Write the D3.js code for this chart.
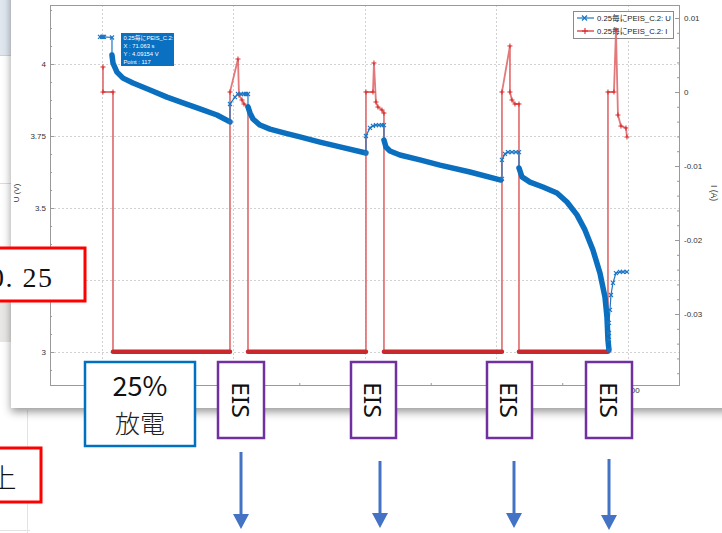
<!DOCTYPE html>
<html><head><meta charset="utf-8">
<script src="https://cdn.jsdelivr.net/npm/d3@7/dist/d3.min.js"></script>
<style>
body{margin:0;background:#fff;overflow:hidden}
svg{display:block}
</style>
</head><body>
<svg id="c" width="722" height="533"></svg>
<script>
// ---------------- data ----------------
const tDomain = [-1977, 21940];
const uDomain = [2.8854, 4.2049];
const iDomain = [-0.03959, 0.011757];

const tTicks = [0, 5000, 10000, 15000, 20000];
const tTickLabels = ["0", "5000", "10000", "15000", "20000"];
const tMinorTicks = [2500, 7500, 12500, 17500];
const uTicks = [3, 3.25, 3.5, 3.75, 4];
const uTickLabels = ["3", "", "3.5", "3.75", "4"];   // 3.25 label is covered in the reference
const iTicks = [-0.03, -0.02, -0.01, 0, 0.01];
const iTickLabels = ["-0.03", "-0.02", "-0.01", "0", "0.01"];

const seriesNames = ["0.25毎にPEIS_C.2: U", "0.25毎にPEIS_C.2: I"];
const axisTitles = ["U (V)", "I (A)", "time (s)"];
const tooltipLines = ["0.25毎にPEIS_C.2: U", "X : 71.063 s", "Y : 4.09154 V", "Point : 117"];

// voltage U (s, V), segment by segment
const uRest = [[-76,4.094],[0,4.094],[38,4.094],[76,4.094],[380,4.092]];
const uDis1 = [[380,4.031],[418,4.003],[570,3.972],[798,3.951],[1179,3.934],[1825,3.910],[2471,3.885],[3080,3.865],[3726,3.844],[4372,3.823],[4867,3.799]];
const uEis1 = [[4867,3.799],[4867,3.861],[5057,3.885],[5171,3.896],[5285,3.896],[5399,3.896],[5475,3.896],[5551,3.896]];
const uDis2 = [[5551,3.851],[5627,3.830],[5741,3.809],[6007,3.788],[6388,3.774],[6958,3.760],[7528,3.747],[8288,3.729],[9049,3.712],[10037,3.691]];
const uEis2 = [[10037,3.691],[10037,3.750],[10189,3.778],[10303,3.785],[10417,3.788],[10531,3.788],[10645,3.788],[10721,3.788]];
const uDis3 = [[10721,3.736],[10797,3.712],[10949,3.698],[11329,3.684],[12090,3.667],[12850,3.649],[13991,3.625],[15170,3.597]];
const uEis3 = [[15208,3.601],[15208,3.667],[15322,3.688],[15436,3.694],[15588,3.694],[15740,3.694],[15855,3.694]];
const uDis4 = [[15855,3.639],[15969,3.608],[16273,3.590],[16767,3.573],[17300,3.552],[17680,3.521],[18060,3.476],[18364,3.424],[18668,3.354],[18935,3.274],[19125,3.191],[19201,3.122],[19239,3.042],[19277,3.007]];
const uEis4 = [[19277,3.007],[19277,3.042],[19277,3.066],[19277,3.101],[19315,3.146],[19353,3.198],[19429,3.240],[19543,3.274],[19695,3.278],[19809,3.278],[19961,3.278]];

// current I (s, A)
const iRest = [[38,0.00338],[38,0],[418,0]];
const iDis1 = [[418,-0.0351],[4867,-0.0351]];
const iEis1 = [[4867,0],[5171,0.00446],[5209,-0.0004],[5323,-0.00108],[5399,-0.00162],[5551,-0.00203]];
const iDis2 = [[5551,-0.0351],[10037,-0.0351]];
const iEis2 = [[10037,0],[10303,0],[10341,0.00392],[10417,-0.00135],[10493,-0.00203],[10645,-0.00243],[10721,-0.00284]];
const iDis3 = [[10721,-0.0351],[15208,-0.0351]];
const iEis3 = [[15208,0],[15512,0.00622],[15512,0],[15588,-0.00108],[15703,-0.00162],[15855,-0.00162]];
const iDis4 = [[15855,-0.0351],[19239,-0.0351]];
const iEis4 = [[19239,0],[19467,0],[19543,0.00838],[19619,-0.00311],[19733,-0.0046],[19923,-0.00486],[19961,-0.00608]];

const uSegments = [uRest,uDis1,uEis1,uDis2,uEis2,uDis3,uEis3,uDis4,uEis4];
const iSegments = [iRest,iDis1,iEis1,iDis2,iEis2,iDis3,iEis3,iDis4,iEis4];
const segmentKinds = ["rest","discharge","eis","discharge","eis","discharge","eis","discharge","eis"];

// overlay annotation labels
const stepLabels = ["25%", "放電"];
const eisLabel = "EIS";
const sideLabels = ["0. 25", "上"];

// ---------------- drawing ----------------
const W = 722, H = 533;
const svg = d3.select("#c");
const defs = svg.append("defs");
const flt = defs.append("filter").attr("id","sh").attr("x","-5%").attr("y","-5%").attr("width","110%").attr("height","115%");
flt.append("feDropShadow").attr("dx",0).attr("dy",4).attr("stdDeviation",4)
   .attr("flood-color","#000").attr("flood-opacity",0.4);

const SANS = "'Liberation Sans', Arial, 'Noto Sans CJK JP', sans-serif";
const CJK = "'Noto Sans CJK JP', 'Noto Sans', sans-serif";

// background behind the chart window
svg.append("rect").attr("width",W).attr("height",H).attr("fill","#fff");
svg.append("rect").attr("x",0).attr("y",0).attr("width",12).attr("height",55).attr("fill","#e0e7ef");
svg.append("line").attr("x1",0).attr("x2",12).attr("y1",55.5).attr("y2",55.5).attr("stroke","#cfd3d8");
svg.append("line").attr("x1",0).attr("x2",12).attr("y1",183.5).attr("y2",183.5).attr("stroke","#dcdcdc");
svg.append("rect").attr("x",0).attr("y",300).attr("width",12).attr("height",42).attr("fill","#e9e7e5");
svg.append("line").attr("x1",27.5).attr("x2",27.5).attr("y1",410).attr("y2",H).attr("stroke","#e3e3e3");
svg.append("line").attr("x1",0).attr("x2",30).attr("y1",530.5).attr("y2",530.5).attr("stroke","#e3e3e3");

// chart window card
svg.append("rect").attr("x",11).attr("y",-20).attr("width",740).attr("height",428)
   .attr("fill","#fff").attr("filter","url(#sh)");

const M = {l:50, r:679, t:5, b:385};
const x = d3.scaleLinear().domain(tDomain).range([M.l, M.r]);
const yU = d3.scaleLinear().domain(uDomain).range([M.b, M.t]);
const yI = d3.scaleLinear().domain(iDomain).range([M.b, M.t]);

// grid
const grid = svg.append("g").attr("stroke","#d2d2d2").attr("stroke-dasharray","2,2").attr("stroke-width",1);
tTicks.forEach(t => grid.append("line").attr("x1",Math.round(x(t))+0.5).attr("x2",Math.round(x(t))+0.5).attr("y1",M.t).attr("y2",M.b));
uTicks.forEach(u => grid.append("line").attr("x1",M.l).attr("x2",M.r).attr("y1",Math.round(yU(u))+0.5).attr("y2",Math.round(yU(u))+0.5));

// legend (drawn below the series)
const lg = svg.append("g");
lg.append("rect").attr("x",573.5).attr("y",11.5).attr("width",100).attr("height",27)
  .attr("fill","#fff").attr("stroke","#8a8a8a");
const legendColors = ["#1f77c4", "#d62728"];
seriesNames.forEach((n,i) => {
  const yy = 18 + i*13;
  lg.append("line").attr("x1",577).attr("x2",594).attr("y1",yy).attr("y2",yy)
    .attr("stroke",legendColors[i]).attr("stroke-width",1.2);
  if (i === 0) {
    lg.append("path").attr("d",`M582,${yy-2.5}L587,${yy+2.5}M582,${yy+2.5}L587,${yy-2.5}`).attr("stroke",legendColors[i]).attr("stroke-width",1.3);
  } else {
    lg.append("path").attr("d",`M582,${yy}L588,${yy}M585,${yy-3}L585,${yy+3}`).attr("stroke",legendColors[i]).attr("stroke-width",1.1);
  }
  lg.append("text").attr("x",597).attr("y",yy+3).attr("font-family",SANS).attr("font-size",7.7)
    .attr("fill","#222").text(n);
});

// axes
function styleAxis(g){
  g.select(".domain").remove();
  g.selectAll("line").attr("stroke","#9a9a9a");
  g.selectAll("text").attr("font-family",SANS).attr("font-size",8).attr("fill","#333");
}
const uMinor = d3.range(2.9375, 4.2, 0.0625).filter(v => !uTicks.some(t => Math.abs(t-v) < 1e-6));
const iMinor = d3.range(-0.038, 0.0115, 0.002).filter(v => !iTicks.some(t => Math.abs(t-v) < 1e-6));

svg.append("g").attr("transform",`translate(${M.l},0)`)
  .call(d3.axisLeft(yU).tickValues(uMinor).tickFormat("").tickSize(-2)).call(styleAxis);
svg.append("g").attr("transform",`translate(${M.l},0)`)
  .call(d3.axisLeft(yU).tickValues(uTicks).tickFormat((d,i)=>uTickLabels[i]).tickSize(-4).tickPadding(4)).call(styleAxis);
svg.append("g").attr("transform",`translate(${M.r},0)`)
  .call(d3.axisRight(yI).tickValues(iMinor).tickFormat("").tickSize(-2)).call(styleAxis);
svg.append("g").attr("transform",`translate(${M.r},0)`)
  .call(d3.axisRight(yI).tickValues(iTicks).tickFormat((d,i)=>iTickLabels[i]).tickSize(-4).tickPadding(5)).call(styleAxis);
svg.append("g").attr("transform",`translate(0,${M.b})`)
  .call(d3.axisBottom(x).tickValues(tMinorTicks).tickFormat("").tickSize(-2)).call(styleAxis);
svg.append("g").attr("transform",`translate(0,${M.b})`)
  .call(d3.axisBottom(x).tickValues(tTicks).tickFormat((d,i)=>tTickLabels[i]).tickSize(-4).tickPadding(2)).call(styleAxis);

// frame
svg.append("rect").attr("x",M.l+0.5).attr("y",M.t+0.5).attr("width",M.r-M.l).attr("height",M.b-M.t)
  .attr("fill","none").attr("stroke","#9a9a9a");

// axis titles
svg.append("text").attr("transform",`translate(19,193) rotate(-90)`).attr("text-anchor","middle")
  .attr("font-family",SANS).attr("font-size",8).attr("fill","#333").text(axisTitles[0]);
svg.append("text").attr("transform",`translate(711,193) rotate(90)`).attr("text-anchor","middle")
  .attr("font-family",SANS).attr("font-size",8.5).attr("fill","#333").text(axisTitles[1]);
svg.append("text").attr("x",(M.l+M.r)/2).attr("y",403).attr("text-anchor","middle")
  .attr("font-family",SANS).attr("font-size",8).attr("fill","#333").text(axisTitles[2]);

// series I (red)
const lineI = d3.line().x(d=>x(d[0])).y(d=>yI(d[1]));
const lineU = d3.line().x(d=>x(d[0])).y(d=>yU(d[1]));
const sI = svg.append("g");
sI.append("path").attr("d",lineI(d3.merge(iSegments))).attr("fill","none")
  .attr("stroke","#e06a6c").attr("stroke-width",1.8).attr("stroke-opacity",0.9);
iSegments.forEach((seg,k) => {
  if (segmentKinds[k] === "discharge") {
    sI.append("path").attr("d",lineI(seg)).attr("fill","none").attr("stroke","#c9282c")
      .attr("stroke-width",4.5).attr("stroke-linecap","round");
  } else {
    seg.forEach(d => {
      const px = x(d[0]), py = yI(d[1]);
      sI.append("path").attr("d",`M${px-2.5},${py}L${px+2.5},${py}M${px},${py-2.5}L${px},${py+2.5}`)
        .attr("stroke","#d62728").attr("stroke-width",1);
    });
  }
});

// series U (blue)
const sU = svg.append("g");
sU.append("path").attr("d",lineU(d3.merge(uSegments))).attr("fill","none")
  .attr("stroke","#1f77c4").attr("stroke-width",1.2);
uSegments.forEach((seg,k) => {
  if (segmentKinds[k] === "discharge") {
    sU.append("path").attr("d",lineU(seg)).attr("fill","none").attr("stroke","#0b6fc0")
      .attr("stroke-width",5.5).attr("stroke-linecap","round").attr("stroke-linejoin","round");
  } else {
    seg.forEach(d => {
      const px = x(d[0]), py = yU(d[1]);
      sU.append("path").attr("d",`M${px-2},${py-2}L${px+2},${py+2}M${px-2},${py+2}L${px+2},${py-2}`)
        .attr("stroke","#1f77c4").attr("stroke-width",1.2);
    });
  }
});

// tooltip
svg.append("rect").attr("x",121).attr("y",33).attr("width",53).attr("height",33).attr("fill","#0a70c2");
tooltipLines.forEach((s,i) => {
  svg.append("text").attr("x",123.5).attr("y",39.5+i*8).attr("font-family",SANS).attr("font-size",5.8)
    .attr("fill","#fff").text(s);
});

// ---------- overlay annotations ----------
const ov = svg.append("g");
// red boxes (cut at left edge)
ov.append("rect").attr("x",-5).attr("y",248).attr("width",90).attr("height",53)
  .attr("fill","#fff").attr("stroke","#ff0000").attr("stroke-width",3);
ov.append("text").attr("x",-10).attr("y",287).attr("font-family","'Liberation Serif', 'DejaVu Serif', serif")
  .attr("font-size",28).attr("letter-spacing",1.5).attr("fill","#111").text(sideLabels[0]);
ov.append("rect").attr("x",-5).attr("y",448).attr("width",46).attr("height",54)
  .attr("fill","#fff").attr("stroke","#ff0000").attr("stroke-width",3);
ov.append("text").attr("x",3).attr("y",488).attr("text-anchor","middle").attr("font-family",CJK)
  .attr("font-size",27).attr("font-weight",300).attr("fill","#111").text(sideLabels[1]);

// blue box "25% 放電"
ov.append("rect").attr("x",85).attr("y",362).attr("width",110).attr("height",84)
  .attr("fill","#fff").attr("stroke","#0070c0").attr("stroke-width",2.5);
ov.append("text").attr("x",140).attr("y",396).attr("text-anchor","middle").attr("font-family",CJK)
  .attr("font-size",27).attr("fill","#111").text(stepLabels[0]);
ov.append("text").attr("x",140).attr("y",433).attr("text-anchor","middle").attr("font-family",CJK)
  .attr("font-size",25).attr("font-weight",300).attr("fill","#222").text(stepLabels[1]);

// EIS boxes
const eisBoxes = [[218,264],[351,396],[487,532],[586,632]];
eisBoxes.forEach(([a,b]) => {
  ov.append("rect").attr("x",a).attr("y",362).attr("width",b-a).attr("height",76)
    .attr("fill","#fff").attr("stroke","#7030a0").attr("stroke-width",2.5);
  ov.append("text").attr("transform",`translate(${(a+b)/2},400) rotate(90)`)
    .attr("text-anchor","middle").attr("dominant-baseline","central")
    .attr("font-family","'Noto Sans', 'Liberation Sans', sans-serif").attr("font-size",24)
    .attr("textLength",36).attr("lengthAdjust","spacingAndGlyphs")
    .attr("fill","#111").text(eisLabel);
});

// arrows
const arrows = [[241,452,529],[380,461,528],[514,461,528],[609,459,530]];
arrows.forEach(([ax,y1,tip]) => {
  ov.append("line").attr("x1",ax).attr("x2",ax).attr("y1",y1).attr("y2",tip-12)
    .attr("stroke","#4472c4").attr("stroke-width",3);
  ov.append("path").attr("d",`M${ax-8},${tip-15}L${ax+8},${tip-15}L${ax},${tip}Z`).attr("fill","#4472c4");
});
</script>
</body></html>
